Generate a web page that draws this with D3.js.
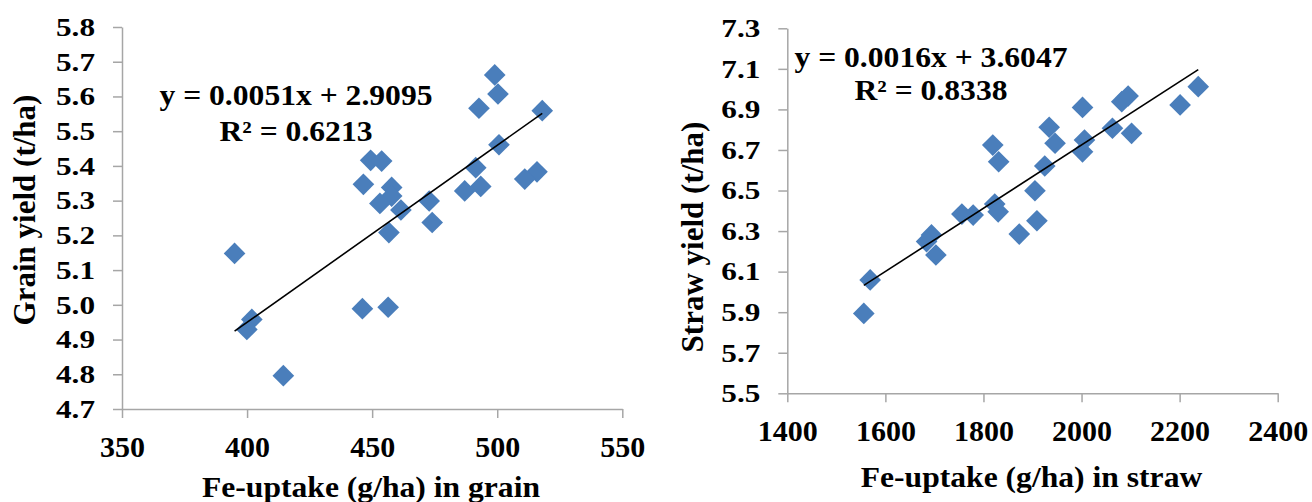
<!DOCTYPE html>
<html>
<head>
<meta charset="utf-8">
<script src="https://cdn.jsdelivr.net/npm/d3@7"></script>
<style>
  html, body { margin: 0; padding: 0; background: #fff; }
  svg { display: block; }
  text { font-family: "Liberation Serif", "Times New Roman", serif; font-weight: bold; fill: #000; }
</style>
</head>
<body>
<svg id="chart" width="1312" height="502"></svg>
<script>
// Fe uptake in grain (g/ha) vs grain yield (t/ha)
const grainFe = [499.0, 500.3, 492.7, 518.0, 500.7, 449.4, 453.8, 491.4, 515.9, 511.0, 446.5, 493.4, 457.8,
                 487.0, 457.8, 453.1, 472.8, 461.5, 474.0, 456.7, 395.0, 446.1, 456.4, 401.9, 399.9, 414.5];
const grainYield = [5.662, 5.607, 5.566, 5.559, 5.461, 5.416, 5.414, 5.395, 5.383, 5.362, 5.347, 5.341, 5.338,
                    5.328, 5.313, 5.292, 5.299, 5.273, 5.237, 5.208, 5.148, 4.989, 4.993, 4.958, 4.929, 4.796];

// Fe uptake in straw (g/ha) vs straw yield (t/ha)
const strawFe = [2002, 2082, 2095, 2238, 2201, 1934, 2063, 2102, 1946, 2006, 2002, 1819, 1831,
                 1925, 1905, 1756, 1779, 1823, 1830, 1909, 1873, 1694, 1684, 1703, 1569, 1556];
const strawYield = [6.910, 6.938, 6.966, 7.012, 6.922, 6.812, 6.807, 6.782, 6.733, 6.749, 6.691, 6.724, 6.642,
                    6.621, 6.499, 6.384, 6.379, 6.433, 6.395, 6.351, 6.285, 6.281, 6.248, 6.182, 6.059, 5.894];

// linear trendlines: slope, intercept, R²
const grainFit = [0.0051, 2.9095, 0.6213];
const strawFit = [0.00156, 3.6047, 0.8338];

// tick values
const grainXTicks = [350, 400, 450, 500, 550];
const grainYTicks = [4.7, 4.8, 4.9, 5.0, 5.1, 5.2, 5.3, 5.4, 5.5, 5.6, 5.7, 5.8];
const strawXTicks = [1400, 1600, 1800, 2000, 2200, 2400];
const strawYTicks = [5.5, 5.7, 5.9, 6.1, 6.3, 6.5, 6.7, 6.9, 7.1, 7.3];

const svg = d3.select("#chart");
const AXIS = "#a6a6a6";
const MARK = "#4a7ebb";

function stretch(sel, k) {
  sel.each(function () {
    const w = this.getComputedTextLength();
    d3.select(this).attr("textLength", w * k).attr("lengthAdjust", "spacingAndGlyphs");
  });
}

function panel(cfg) {
  const x = d3.scaleLinear().domain(d3.extent(cfg.xTicks)).range(cfg.xRange);
  const y = d3.scaleLinear().domain(d3.extent(cfg.yTicks)).range(cfg.yRange);
  const g = svg.append("g");

  // y axis
  const ya = g.append("g")
    .attr("transform", `translate(${cfg.xRange[0]},0)`)
    .call(d3.axisLeft(y).tickValues(cfg.yTicks).tickFormat(d3.format(".1f"))
      .tickSizeInner(9).tickSizeOuter(0).tickPadding(18));
  ya.select(".domain").attr("stroke", AXIS).attr("stroke-width", 1.5);
  ya.selectAll(".tick line").attr("stroke", AXIS).attr("stroke-width", 1.5);
  ya.selectAll(".tick text").attr("font-size", 26).attr("font-family", null).attr("fill", "#000")
    .call(stretch, 1.2);

  // x axis
  const xa = g.append("g")
    .attr("transform", `translate(0,${cfg.yRange[0]})`)
    .call(d3.axisBottom(x).tickValues(cfg.xTicks).tickFormat(d3.format("d"))
      .tickSizeInner(9).tickSizeOuter(0).tickPadding(17.5));
  xa.select(".domain").attr("stroke", AXIS).attr("stroke-width", 1.5);
  xa.selectAll(".tick line").attr("stroke", AXIS).attr("stroke-width", 1.5);
  xa.selectAll(".tick text").attr("font-size", 30).attr("font-family", null).attr("fill", "#000");

  // points
  const pts = cfg.xs.map((v, i) => [v, cfg.ys[i]]);
  const diamond = d3.symbol().type(d3.symbolSquare).size(235);
  g.append("g").selectAll("path").data(pts).join("path")
    .attr("d", diamond)
    .attr("transform", d => `translate(${x(d[0])},${y(d[1])}) rotate(45)`)
    .attr("fill", MARK);

  // trendline across the range of the data
  const [m, b, r2] = cfg.fit;
  const xr = d3.extent(cfg.xs);
  g.append("line")
    .attr("x1", x(xr[0])).attr("y1", y(m * xr[0] + b))
    .attr("x2", x(xr[1])).attr("y2", y(m * xr[1] + b))
    .attr("stroke", "#000").attr("stroke-width", 1.6);

  // equation
  g.append("text").attr("x", cfg.eq[0]).attr("y", cfg.eq[1]).attr("text-anchor", "middle")
    .attr("font-size", 29).text(`y = ${m.toFixed(4)}x + ${b.toFixed(4)}`).call(stretch, 1.09);
  g.append("text").attr("x", cfg.eq[0]).attr("y", cfg.eq[2]).attr("text-anchor", "middle")
    .attr("font-size", 29).text(`R² = ${r2.toFixed(4)}`).call(stretch, 1.09);

  // axis titles
  g.append("text").attr("x", cfg.xTitle[0]).attr("y", cfg.xTitle[1]).attr("text-anchor", "middle")
    .attr("font-size", 29).text(cfg.xLabel).call(stretch, 1.09);
  g.append("text").attr("transform", `translate(${cfg.yTitle[0]},${cfg.yTitle[1]}) rotate(-90)`)
    .attr("text-anchor", "middle").attr("font-size", 31).text(cfg.yLabel);
}

panel({
  xs: grainFe, ys: grainYield, fit: grainFit,
  xTicks: grainXTicks, yTicks: grainYTicks,
  xRange: [122, 622.3], yRange: [409, 27],
  eq: [296, 105, 141],
  xLabel: "Fe-uptake (g/ha) in grain", xTitle: [371, 496.5],
  yLabel: "Grain yield (t/ha)", yTitle: [35, 210]
});

panel({
  xs: strawFe, ys: strawYield, fit: strawFit,
  xTicks: strawXTicks, yTicks: strawYTicks,
  xRange: [787.3, 1277.7], yRange: [393.3, 28.3],
  eq: [931, 67, 100],
  xLabel: "Fe-uptake (g/ha) in straw", xTitle: [1031.5, 487.3],
  yLabel: "Straw yield (t/ha)", yTitle: [703, 237]
});
</script>
</body>
</html>
